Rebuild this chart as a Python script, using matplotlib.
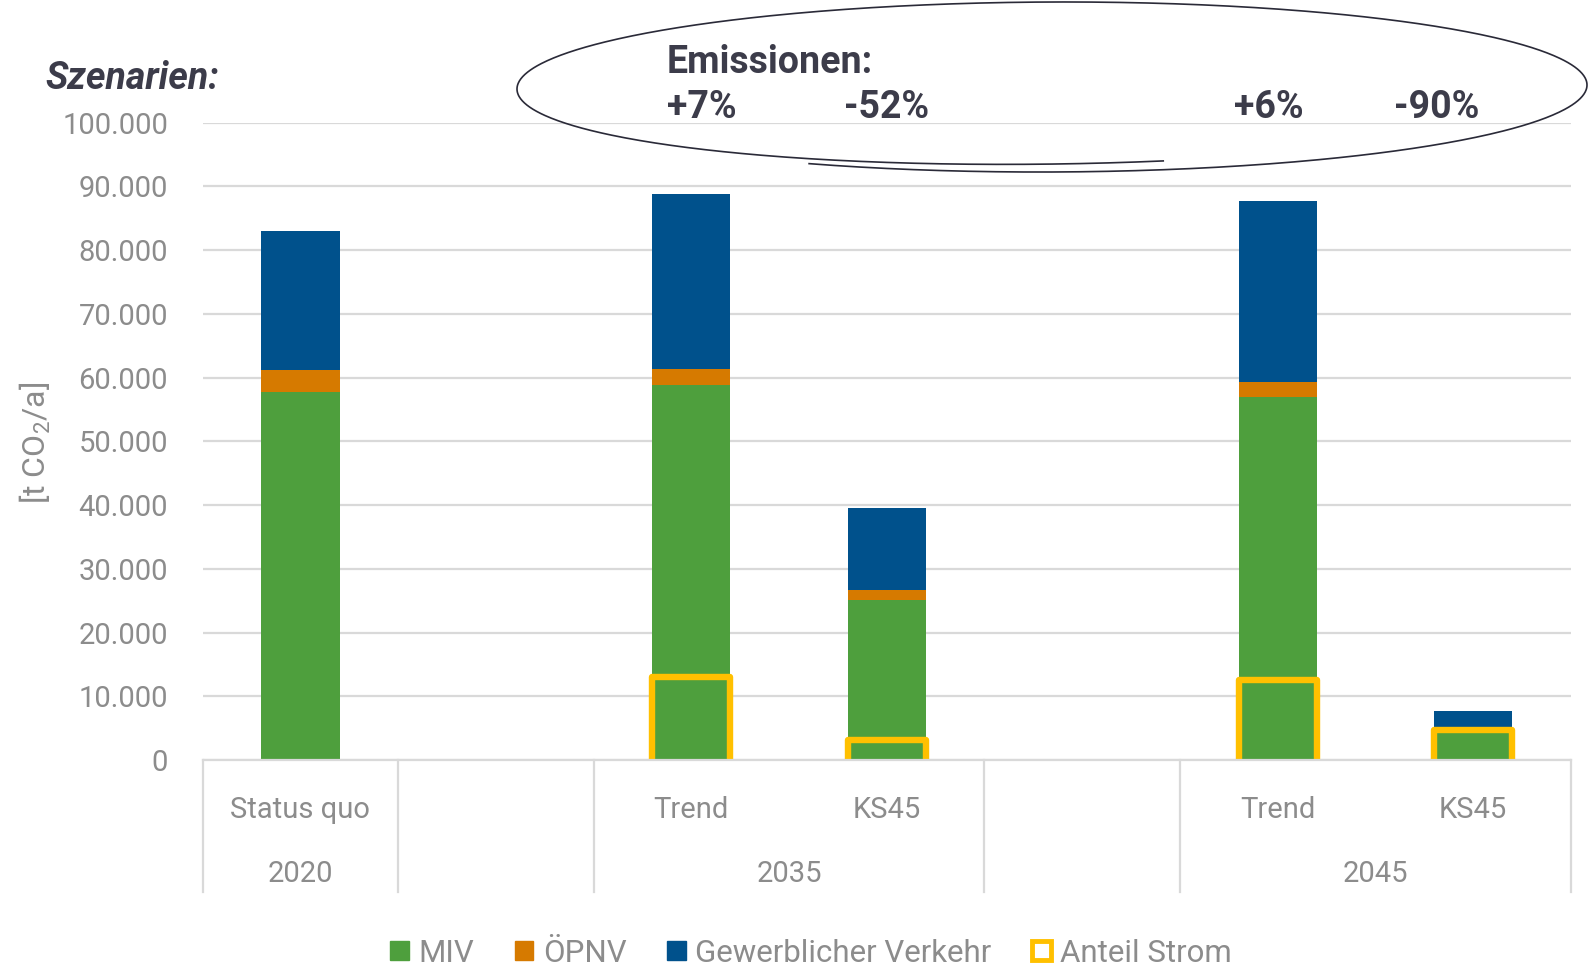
import numpy as np
import matplotlib
matplotlib.use("Agg")
import matplotlib.pyplot as plt
from matplotlib.patches import Patch
from matplotlib.ticker import FuncFormatter
import matplotlib.transforms as mtransforms

# ---------------- data ----------------
scenarios = ["Status quo", "", "Trend", "KS45", "", "Trend", "KS45"]
groups = ["2020", "", "2035", "", "2045"]
group_spans = [(0, 1), (1, 2), (2, 4), (4, 5), (5, 7)]   # slot ranges
miv = [57700, np.nan, 58800, 25100, np.nan, 56900, 5000]
oepnv = [3500, np.nan, 2600, 1500, np.nan, 2400, 200]
gewerb = [21800, np.nan, 27400, 13000, np.nan, 28400, 2500]
strom = [np.nan, np.nan, 13100, 3200, np.nan, 12500, 4700]
series_names = ["MIV", "ÖPNV", "Gewerblicher Verkehr", "Anteil Strom"]
pct_labels = ["+7%", "-52%", "+6%", "-90%"]
yticks = [0, 10000, 20000, 30000, 40000, 50000, 60000, 70000, 80000, 90000, 100000]

# ---------------- style ----------------
C_MIV = "#4E9F3D"
C_OEPNV = "#D67A00"
C_GEW = "#00518C"
C_STROM = "#FFC000"
C_TXT = "#8C8C8C"
C_DARK = "#3C3C4A"
C_GRID = "#D9D9D9"
FONT = ["Roboto", "DejaVu Sans"]

plt.rcParams["font.family"] = FONT
plt.rcParams["mathtext.fontset"] = "custom"
plt.rcParams["mathtext.rm"] = "Roboto"
plt.rcParams["mathtext.it"] = "Roboto:italic"

W, H = 1589, 965
fig = plt.figure(figsize=(W / 100, H / 100), dpi=100)

ax_l, ax_r, ax_b, ax_t = 202.7, 1570.8, 760.0, 122.6
ax = fig.add_axes([ax_l / W, 1 - ax_b / H, (ax_r - ax_l) / W, (ax_b - ax_t) / H])

x = np.arange(len(scenarios))
bw = 0.4
miv_a = np.array(miv, dtype=float)
oe_a = np.array(oepnv, dtype=float)
gw_a = np.array(gewerb, dtype=float)

ax.bar(x, miv_a, bw, color=C_MIV, zorder=3)
ax.bar(x, oe_a, bw, bottom=miv_a, color=C_OEPNV, zorder=3)
ax.bar(x, gw_a, bw, bottom=miv_a + oe_a, color=C_GEW, zorder=3)

# Anteil Strom boxes (open rectangles)
for xi, v in zip(x, strom):
    if np.isnan(v):
        continue
    ax.plot([xi - bw / 2, xi - bw / 2, xi + bw / 2, xi + bw / 2], [0, v, v, 0],
            color=C_STROM, lw=4.6, solid_joinstyle="round", zorder=4, clip_on=True)

AX_FS = 21
ax.set_xlim(-0.5, len(scenarios) - 0.5)
ax.set_ylim(0, 100000)
ax.set_yticks(yticks)
ax.yaxis.set_major_formatter(FuncFormatter(lambda v, p: f"{int(v):,}".replace(",", ".")))
ax.tick_params(axis="y", length=0, pad=25, labelsize=21, labelcolor=C_TXT)
ax.set_xticks([])
ax.grid(axis="y", color=C_GRID, lw=1.6, zorder=0)
for s in ["top", "right", "left"]:
    ax.spines[s].set_visible(False)
ax.spines["bottom"].set_color(C_GRID)
ax.spines["bottom"].set_linewidth(1.6)
ax.spines["bottom"].set_zorder(5)

# category axis
trans = mtransforms.blended_transform_factory(ax.transData, ax.transAxes)
ax_h = ax_b - ax_t
for xi, name in zip(x, scenarios):
    if name:
        ax.text(xi, -50 / ax_h, name, transform=trans, ha="center", va="center",
                fontsize=AX_FS, color=C_TXT)
bounds = sorted(set([s for s, e in group_spans] + [e for s, e in group_spans]))
for b in bounds:
    ax.plot([b - 0.5, b - 0.5], [0, -132 / ax_h], transform=trans, color=C_GRID,
            lw=1.6, clip_on=False)
for g, (s, e) in zip(groups, group_spans):
    if g:
        ax.text((s + e - 1) / 2, -114.5 / ax_h, g, transform=trans, ha="center",
                va="center", fontsize=AX_FS, color=C_TXT)

# overlay in pixel coordinates
ov = fig.add_axes([0, 0, 1, 1], zorder=10)
ov.set_xlim(0, W)
ov.set_ylim(H, 0)
ov.axis("off")
ov.patch.set_alpha(0)

fig.text(35.5 / W, 1 - 443 / H, r"[t CO$_2$/a]", rotation=90, ha="center", va="center",
         fontsize=23, color=C_TXT)

ov.text(45, 89, "Szenarien:", ha="left", va="baseline", fontsize=27,
        fontweight="bold", fontstyle="italic", color=C_DARK)

# hand-drawn looking loop around the emission texts
t = np.deg2rad(np.linspace(117, -282, 800))
prog = np.clip((np.deg2rad(-180) - t) / np.deg2rad(102), 0, 1)
b_rad = 85 - 9 * prog
cy = 87 - 2 * np.cos(t)
ov.plot(1052 + 535 * np.cos(t), cy + b_rad * np.sin(t), color="#2A2A38", lw=1.2)

ov.text(667, 73, "Emissionen:", ha="left", va="baseline", fontsize=27,
        fontweight="bold", color=C_DARK)
for px, lab in zip([667, 844, 1234, 1394], pct_labels):
    ov.text(px, 118, lab, ha="left", va="baseline", fontsize=27, fontweight="bold",
            color=C_DARK)

handles = [Patch(fc=C_MIV, ec=C_MIV), Patch(fc=C_OEPNV, ec=C_OEPNV),
           Patch(fc=C_GEW, ec=C_GEW), Patch(fc="white", ec=C_STROM, lw=3.5)]
leg = fig.legend(handles, series_names, loc="center", bbox_to_anchor=(811 / W, 1 - 953 / H),
                 ncol=4, frameon=False, fontsize=22.5, handlelength=0.6, handleheight=0.6,
                 handletextpad=0.3, columnspacing=1.3, labelcolor=C_TXT)

fig.savefig("out.png", dpi=100)
